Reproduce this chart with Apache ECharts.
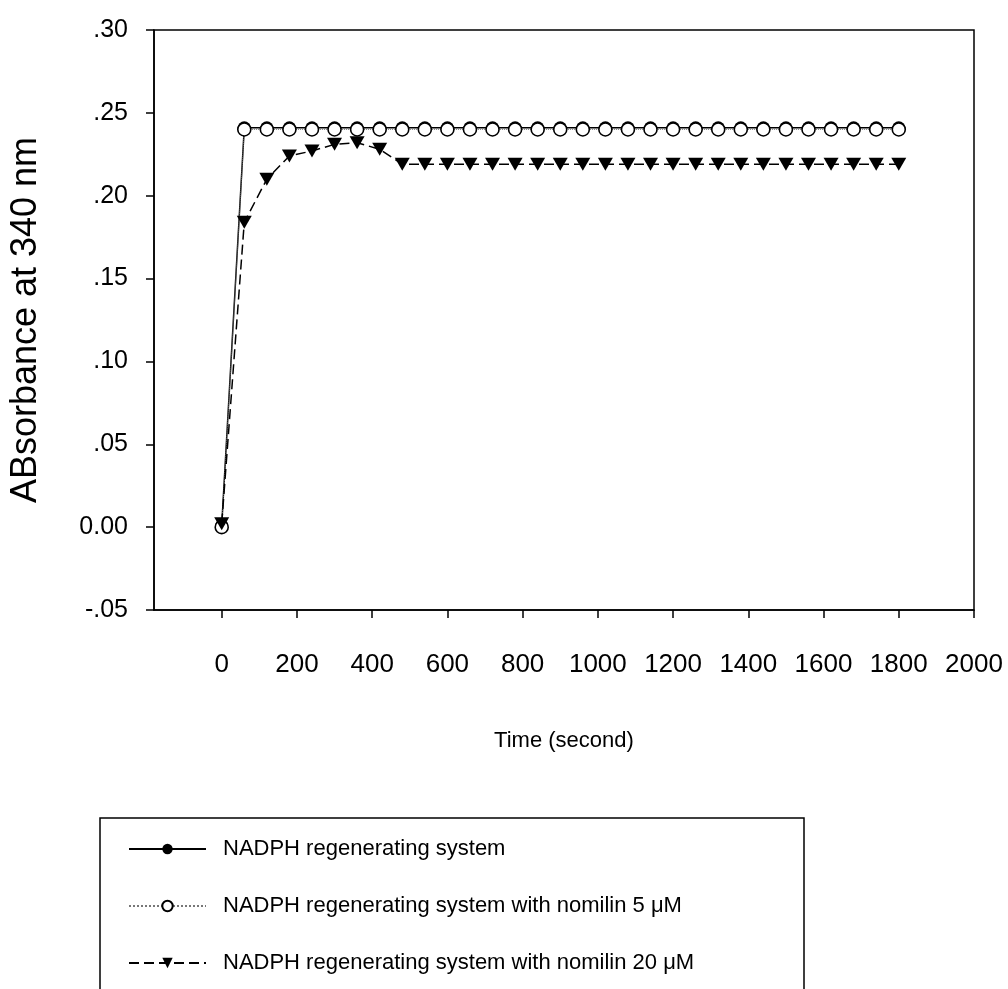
<!DOCTYPE html>
<html>
<head>
<meta charset="utf-8">
<script src="https://cdn.jsdelivr.net/npm/echarts@6/dist/echarts.min.js"></script>
<style>
html,body{margin:0;padding:0;background:#fff;}
#chart{width:1008px;height:989px;}
</style>
</head>
<body>
<div id="chart"></div>
<script>
// Time points (seconds)
const timeSec = [0,60,120,180,240,300,360,420,480,540,600,660,720,780,840,900,960,1020,1080,1140,1200,1260,1320,1380,1440,1500,1560,1620,1680,1740,1800];
// Absorbance at 340 nm
const nadph = [0.001,0.241,0.241,0.241,0.241,0.241,0.241,0.241,0.241,0.241,0.241,0.241,0.241,0.241,0.241,0.241,0.241,0.241,0.241,0.241,0.241,0.241,0.241,0.241,0.241,0.241,0.241,0.241,0.241,0.241,0.241];
const nomilin5 = [0.000,0.240,0.240,0.240,0.240,0.240,0.240,0.240,0.240,0.240,0.240,0.240,0.240,0.240,0.240,0.240,0.240,0.240,0.240,0.240,0.240,0.240,0.240,0.240,0.240,0.240,0.240,0.240,0.240,0.240,0.240];
const nomilin20 = [0.002,0.184,0.210,0.224,0.227,0.231,0.232,0.228,0.219,0.219,0.219,0.219,0.219,0.219,0.219,0.219,0.219,0.219,0.219,0.219,0.219,0.219,0.219,0.219,0.219,0.219,0.219,0.219,0.219,0.219,0.219];
const seriesNames = ['NADPH regenerating system','NADPH regenerating system with nomilin 5 \u03BCM','NADPH regenerating system with nomilin 20 \u03BCM'];
const xTicks = [0,200,400,600,800,1000,1200,1400,1600,1800,2000];
const yTickValues = [-0.05,0,0.05,0.10,0.15,0.20,0.25,0.30];
const yTickLabels = ['-.05','0.00','.05','.10','.15','.20','.25','.30'];

const font = 'Liberation Sans, Arial, sans-serif';
const pair = (xs, ys) => xs.map((x, i) => [x, ys[i]]);

const chart = echarts.init(document.getElementById('chart'));
chart.setOption({
  animation: false,
  backgroundColor: '#fff',
  grid: {left: 154, right: 34, top: 30, bottom: 379, show: true, borderColor: '#000', borderWidth: 1.5, containLabel: false},
  xAxis: {
    type: 'value', min: -180, max: 2000,
    name: 'Time (second)', nameLocation: 'middle', nameGap: 120,
    nameTextStyle: {fontFamily: font, fontSize: 22, color: '#000'},
    axisLine: {show: true, onZero: false, lineStyle: {color: '#000', width: 1.5}},
    axisTick: {show: true, length: 8, lineStyle: {color: '#000', width: 1.5}, customValues: xTicks},
    axisLabel: {fontFamily: font, fontSize: 26, color: '#000', margin: 42, customValues: xTicks, formatter: v => String(v)},
    splitLine: {show: false}
  },
  yAxis: {
    type: 'value', min: -0.05, max: 0.30, interval: 0.05,
    name: 'ABsorbance at 340 nm', nameLocation: 'middle', nameGap: 110, nameRotate: 90,
    nameTextStyle: {fontFamily: font, fontSize: 36, color: '#000'},
    axisLine: {show: true, onZero: false, lineStyle: {color: '#000', width: 1.5}},
    axisTick: {show: true, length: 8, lineStyle: {color: '#000', width: 1.5}},
    axisLabel: {fontFamily: font, fontSize: 25, color: '#000', margin: 26,
      formatter: v => {
        let best = 0, bd = 1e9;
        yTickValues.forEach((t, i) => { const d = Math.abs(t - v); if (d < bd) { bd = d; best = i; } });
        return yTickLabels[best];
      }},
    splitLine: {show: false}
  },
  legend: {
    orient: 'vertical', left: 128, top: 838, padding: 0,
    itemWidth: 77, itemHeight: 13, itemGap: 35,
    textStyle: {fontFamily: font, fontSize: 22, color: '#000', padding: [0, 0, 0, 12]},
    data: seriesNames
  },
  graphic: [{
    type: 'rect', shape: {x: 100, y: 818, width: 704, height: 200},
    style: {fill: 'none', stroke: '#000', lineWidth: 1.5}, z: 100
  }],
  series: [
    {
      name: seriesNames[0], type: 'line', data: pair(timeSec, nadph),
      symbol: 'circle', symbolSize: 13,
      itemStyle: {color: '#000'},
      lineStyle: {color: '#000', width: 1.5, type: 'solid'}
    },
    {
      name: seriesNames[1], type: 'line', data: pair(timeSec, nomilin5),
      symbol: 'circle', symbolSize: 13,
      itemStyle: {color: '#fff', borderColor: '#000', borderWidth: 1.6},
      lineStyle: {color: '#777', width: 1, type: 'dotted'}
    },
    {
      name: seriesNames[2], type: 'line', data: pair(timeSec, nomilin20),
      symbol: 'triangle', symbolRotate: 180, symbolSize: [15, 13],
      itemStyle: {color: '#000'},
      lineStyle: {color: '#000', width: 1.5, type: [10, 5]}
    }
  ]
});
</script>
</body>
</html>
